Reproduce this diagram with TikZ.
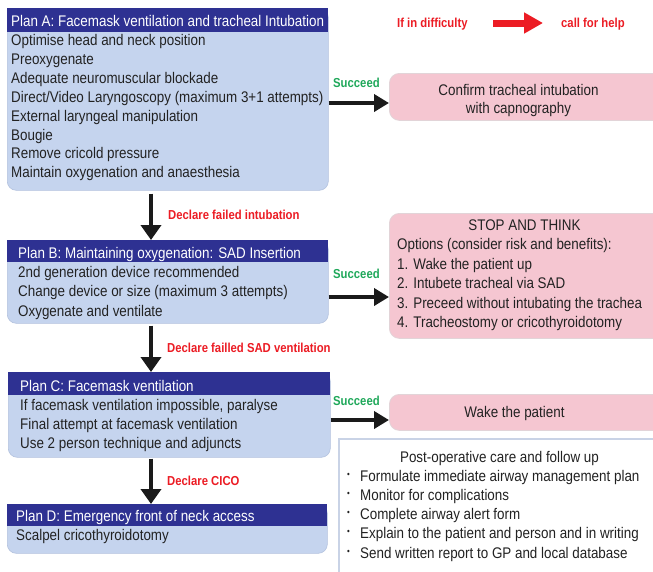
\documentclass[tikz,border=0pt]{standalone}
\usepackage{fontspec}
\setmainfont{Liberation Sans}[FakeStretch=0.87]
\usetikzlibrary{arrows.meta}
\definecolor{navy}{HTML}{2E3192}
\definecolor{bodyblue}{HTML}{C5D4EE}
\definecolor{bodyedge}{HTML}{B3C2DE}
\definecolor{pinkbox}{HTML}{F5C6D1}
\definecolor{pinkedge}{HTML}{E2D4D8}
\definecolor{txtgray}{HTML}{222222}
\definecolor{redc}{HTML}{EC1C24}
\definecolor{greenc}{HTML}{1FA85A}
\definecolor{arrowblack}{HTML}{1A1A1A}
\definecolor{postedge}{HTML}{C9D3E6}
\begin{document}
\begin{tikzpicture}[x=1pt,y=-1pt,
  font=\fontsize{15.4}{18}\selectfont,
  planbody/.style={draw=bodyedge, fill=bodyblue, rounded corners=9pt, inner sep=0pt, line width=0.6pt, anchor=north west},
  planhead/.style={fill=navy, inner sep=0pt, anchor=north west},
  pinkbody/.style={draw=pinkedge, fill=pinkbox, rounded corners=10pt, inner sep=0pt, line width=0.8pt, anchor=north west},
  txt/.style={anchor=base west, inner sep=0pt, text=txtgray},
  ctxt/.style={anchor=base, inner sep=0pt, text=txtgray},
  htxt/.style={anchor=base west, inner sep=0pt, text=white},
  redlab/.style={anchor=base west, inner sep=0pt, text=redc, font=\bfseries\fontsize{13}{15}\selectfont},
  greenlab/.style={anchor=base west, inner sep=0pt, text=greenc, font=\bfseries\fontsize{13}{15}\selectfont},
  flow/.style={line width=4pt, draw=arrowblack, -{Triangle[length=15pt,width=20pt]}},
  sideflow/.style={line width=4pt, draw=arrowblack, -{Triangle[length=15pt,width=17pt]}},
  helpflow/.style={line width=7pt, draw=redc, -{Triangle[length=19pt,width=20pt]}},
  bullet/.style={anchor=base west, inner sep=0pt, text=txtgray, font=\fontsize{9}{9}\selectfont}
]
\useasboundingbox (0,0) rectangle (653,571);
\clip (0,0) rectangle (653,571);
\fill[white] (0,0) rectangle (653,571);

% ---------- Plan A ----------
\node[planbody, minimum width=321pt, minimum height=182pt] (planA) at (7,8) {};
\node[planhead, minimum width=321pt, minimum height=24pt] (planAh) at (7,8) {};
\node[htxt] (planAt) at (11,26) {Plan A: Facemask ventilation and tracheal Intubation};
\node[txt] (a1) at (11,45.5) {Optimise head and neck position};
\node[txt] (a2) at (11,64.4) {Preoxygenate};
\node[txt] (a3) at (11,83.3) {Adequate neuromuscular blockade};
\node[txt] (a4) at (11,102.2) {Direct/Video Laryngoscopy (maximum 3+1 attempts)};
\node[txt] (a5) at (11,121.1) {External laryngeal manipulation};
\node[txt] (a6) at (11,140) {Bougie};
\node[txt] (a7) at (11,158.9) {Remove cricold pressure};
\node[txt] (a8) at (11,177.8) {Maintain oxygenation and anaesthesia};

% ---------- Plan B ----------
\node[planbody, minimum width=321pt, minimum height=83pt] (planB) at (7,240) {};
\node[planhead, minimum width=321pt, minimum height=22pt] (planBh) at (7,240) {};
\node[htxt] (planBt) at (18,258) {Plan B: Maintaining oxygenation: SAD Insertion};
\node[txt] (b1) at (18,277.3) {2nd generation device recommended};
\node[txt] (b2) at (18,296.7) {Change device or size (maximum 3 attempts)};
\node[txt] (b3) at (18,316) {Oxygenate and ventilate};

% ---------- Plan C ----------
\node[planbody, minimum width=322pt, minimum height=85pt] (planC) at (8,372) {};
\node[planhead, minimum width=322pt, minimum height=23pt] (planCh) at (8,372) {};
\node[htxt] (planCt) at (20,391.5) {Plan C: Facemask ventilation};
\node[txt] (c1) at (20,410) {If facemask ventilation impossible, paralyse};
\node[txt] (c2) at (20,429.2) {Final attempt at facemask ventilation};
\node[txt] (c3) at (20,448.3) {Use 2 person technique and adjuncts};

% ---------- Plan D ----------
\node[planbody, minimum width=320pt, minimum height=49pt] (planD) at (7,504) {};
\node[planhead, minimum width=320pt, minimum height=22pt] (planDh) at (7,504) {};
\node[htxt] (planDt) at (16,521) {Plan D: Emergency front of neck access};
\node[txt] (d1) at (16,540) {Scalpel cricothyroidotomy};

% ---------- vertical arrows ----------
\coordinate (colx) at (151,0);
\draw[flow, shorten <=3pt] (planA.south -| colx) -- (planBh.north -| colx);
\draw[flow, shorten <=2pt] (planB.south -| colx) -- (planCh.north -| colx);
\draw[flow, shorten <=1pt] (planC.south -| colx) -- (planDh.north -| colx);
\node[redlab] (fail1) at (168,219) {Declare failed intubation};
\node[redlab] (fail2) at (167,352) {Declare failled SAD ventilation};
\node[redlab] (fail3) at (167,485) {Declare CICO};

% ---------- call for help ----------
\node[redlab] (diff) at (397,27) {If in difficulty};
\node[redlab] (help) at (561,27) {call for help};
\coordinate (helpA) at (493,23);
\coordinate (helpB) at (543,23);
\draw[helpflow] (helpA) -- (helpB);

% ---------- right boxes ----------
\node[pinkbody, minimum width=300pt, minimum height=47pt] (confirm) at (389,73) {};
\node[ctxt] (conf1) at (518.5,95) {Confirm tracheal intubation};
\node[ctxt] (conf2) at (518.5,113) {with capnography};

\node[pinkbody, minimum width=300pt, minimum height=125pt] (stop) at (389,213) {};
\node[ctxt] (s0) at (524.5,230.5) {STOP AND THINK};
\node[txt] (s1) at (397,249.5) {Options (consider risk and benefits):};
\node[txt] (s2) at (397,269) {1. Wake the patient up};
\node[txt] (s3) at (397,288.5) {2. Intubete tracheal via SAD};
\node[txt] (s4) at (397,308) {3. Preceed without intubating the trachea};
\node[txt] (s5) at (397,327) {4. Tracheostomy or cricothyroidotomy};

\node[pinkbody, minimum width=300pt, minimum height=36pt] (wake) at (389,394) {};
\node[ctxt] (w1) at (514.5,417) {Wake the patient};

% ---------- succeed arrows ----------
\draw[sideflow] (planA.east |- 0,103) -- (confirm.west |- 0,103);
\draw[sideflow] (planB.east |- 0,297) -- (stop.west |- 0,297);
\draw[sideflow] (planC.east |- 0,420) -- (wake.west |- 0,420);
\node[greenlab] (succ1) at (333,87) {Succeed};
\node[greenlab] (succ2) at (333,278) {Succeed};
\node[greenlab] (succ3) at (333,405) {Succeed};

% ---------- post-operative box ----------
\node[draw=postedge, fill=white, line width=1.6pt, inner sep=0pt, anchor=north west,
      minimum width=340pt, minimum height=150pt] (post) at (338,438) {};
\node[ctxt] (p0) at (499.5,462) {Post-operative care and follow up};
\node[bullet] (pb1) at (347,477) {•};
\node[bullet] (pb2) at (347,496.3) {•};
\node[bullet] (pb3) at (347,515.6) {•};
\node[bullet] (pb4) at (347,534.9) {•};
\node[bullet] (pb5) at (347,554.2) {•};
\node[txt] (p1) at (360,481) {Formulate immediate airway management plan};
\node[txt] (p2) at (360,500.3) {Monitor for complications};
\node[txt] (p3) at (360,519.6) {Complete airway alert form};
\node[txt] (p4) at (360,538.9) {Explain to the patient and person and in writing};
\node[txt] (p5) at (360,558.2) {Send written report to GP and local database};
\end{tikzpicture}
\end{document}
